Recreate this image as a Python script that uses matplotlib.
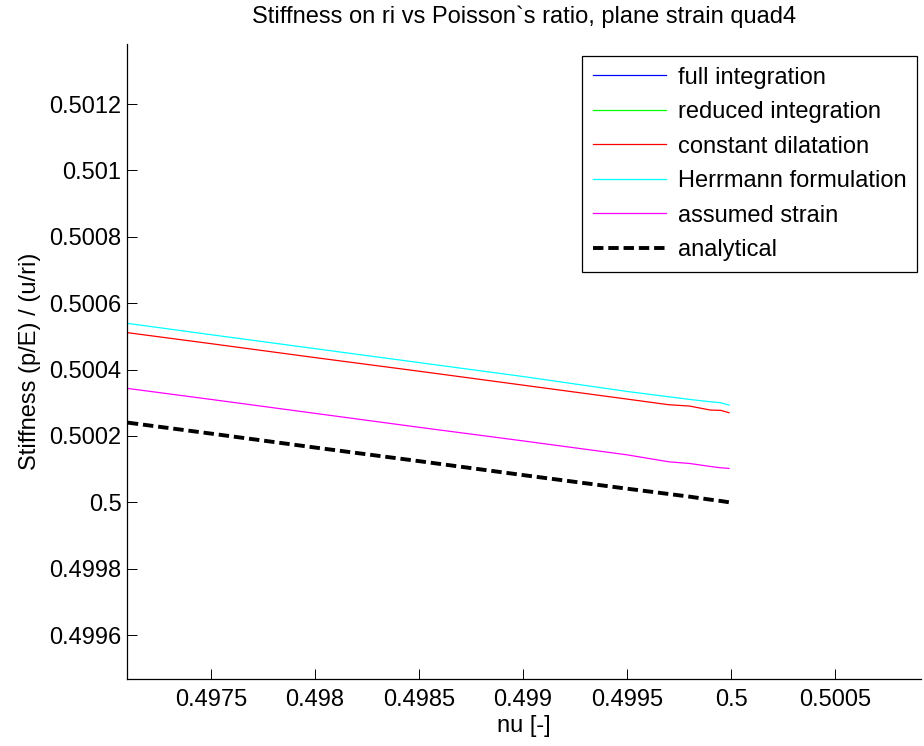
import numpy as np
import matplotlib
matplotlib.use('Agg')
import matplotlib.pyplot as plt

plt.rcParams['font.family'] = ['Liberation Sans', 'DejaVu Sans']
plt.rcParams['lines.scale_dashes'] = False

# Poisson's ratio samples
nu = [0.4971, 0.4975, 0.498, 0.4985, 0.499, 0.4995, 0.4997, 0.4998, 0.4999, 0.49995, 0.49999]

# stiffness values (full / reduced integration lie off the view)
full_integration = []
reduced_integration = []
constant_dilatation = [0.500511, 0.500478, 0.500436, 0.500395, 0.500353, 0.500311,
                       0.500294, 0.500290, 0.500278, 0.500277, 0.500270]
herrmann = [0.500539, 0.500505, 0.500463, 0.500421, 0.500379, 0.500334,
            0.500318, 0.500310, 0.500303, 0.500300, 0.500293]
assumed_strain = [0.500343, 0.500310, 0.500268, 0.500226, 0.500185, 0.500143,
                  0.500122, 0.500117, 0.500108, 0.500104, 0.500102]
analytical = [0.500240, 0.500207, 0.500165, 0.500124, 0.500082, 0.500041,
              0.500025, 0.500017, 0.500008, 0.500004, 0.500000]

xticks = [0.4975, 0.498, 0.4985, 0.499, 0.4995, 0.5, 0.5005]
xtick_labels = ['0.4975', '0.498', '0.4985', '0.499', '0.4995', '0.5', '0.5005']
yticks = [0.4996, 0.4998, 0.5, 0.5002, 0.5004, 0.5006, 0.5008, 0.501, 0.5012]
ytick_labels = ['0.4996', '0.4998', '0.5', '0.5002', '0.5004', '0.5006', '0.5008', '0.501', '0.5012']

fs = 17

fig = plt.figure(figsize=(9.24, 7.46), dpi=100)
ax = fig.add_axes([127 / 924, 67 / 746, (921 - 127) / 924, (679 - 44) / 746])

lw = 0.9
ax.plot(full_integration, full_integration, color=(0, 0, 1), lw=lw, label='full integration')
ax.plot(reduced_integration, reduced_integration, color=(0, 1, 0), lw=lw, label='reduced integration')
ax.plot(nu, constant_dilatation, color=(1, 0, 0), lw=lw, label='constant dilatation')
ax.plot(nu, herrmann, color=(0, 1, 1), lw=lw, label='Herrmann formulation')
ax.plot(nu, assumed_strain, color=(1, 0, 1), lw=lw, label='assumed strain')
ax.plot(nu, analytical, color='k', lw=2.8, dashes=(7.5, 3.5), label='analytical')

ax.set_xlim(0.497096, 0.500913)
ax.set_ylim(0.4994675, 0.501381)
ax.set_xticks(xticks, xtick_labels)
ax.set_yticks(yticks, ytick_labels)
ax.tick_params(direction='in', length=7, width=0.7, labelsize=fs)
ax.tick_params(axis='y', pad=4)
ax.tick_params(axis='x', pad=7)

for side in ['top', 'right']:
    ax.spines[side].set_visible(False)
for side in ['left', 'bottom']:
    ax.spines[side].set_linewidth(0.9)

ax.set_title('Stiffness on ri vs Poisson`s ratio, plane strain quad4', fontsize=fs, pad=15)
ax.set_xlabel('nu [-]', fontsize=fs, labelpad=3)
ax.set_ylabel('Stiffness (p/E) / (u/ri)', fontsize=fs, labelpad=6)

leg = ax.legend(loc='upper right', bbox_to_anchor=(917 / 924, 1 - 56 / 746),
                bbox_transform=fig.transFigure, borderaxespad=0, fontsize=fs,
                fancybox=False, framealpha=1, edgecolor='k',
                handlelength=3.1, handletextpad=0.5, labelspacing=0.53,
                borderpad=0.45)
leg.get_frame().set_linewidth(0.9)

fig.savefig('out.png', dpi=100)
